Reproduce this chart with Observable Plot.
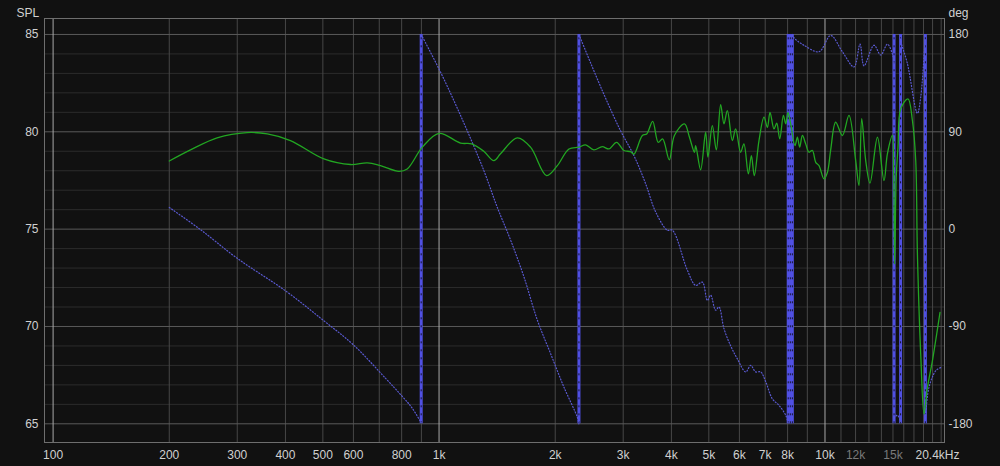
<!DOCTYPE html>
<html><head><meta charset="utf-8">
<script src="https://cdn.jsdelivr.net/npm/d3@7"></script>
<script src="https://cdn.jsdelivr.net/npm/@observablehq/plot@0.6"></script>
<style>
html,body{margin:0;padding:0;background:#111111;}
#chart svg{display:block;}
</style></head><body><div id="chart"></div>
<script>
// ---- SPL (green) ----
const splFreq = [200,227,266,318,359,412,503,590,652,705,787,827,905,1000,1137,1215,1306,1387,1443,1595,1726,1900,2025,2171,2304,2397,2518,2648,2755,2884,3013,3135,3198,3364,3452,3577,3697,3795,3950,4072,4324,4455,4590,4623,4762,4906,4974,5106,5230,5366,5473,5585,5753,5868,6045,6165,6330,6446,6559,6745,6950,7092,7203,7377,7498,7634,7802,7910,8019,8149,8360,8481,8598,8738,8912,9089,9275,9461,9648,9941,10146,10349,10658,11093,11539,12010,12249,12449,12750,13080,13673,14220,14510,14950,15068,15157,15290,15458,15710,16410,16846,17182,17356,17702,18055,18426,18981,19862];
const splValue = [78.5,79.07,79.69,79.96,79.89,79.55,78.61,78.32,78.4,78.26,77.97,78.09,79.21,79.92,79.42,79.38,79.0,78.52,78.87,79.69,79.21,77.75,78.26,79.12,79.21,79.33,79.07,79.24,79.12,79.46,79.04,78.98,78.85,79.81,79.89,80.54,79.46,79.64,78.56,79.81,80.41,79.72,78.95,79.29,78.05,79.98,78.7,80.32,79.07,81.4,80.41,81.09,79.55,80.15,78.95,79.38,77.84,78.78,77.75,79.55,80.75,80.23,81.0,80.15,80.44,79.64,80.84,80.41,81.0,80.41,79.29,79.72,79.21,79.81,79.38,78.95,79.04,78.43,78.26,77.58,77.92,79.1,80.49,79.81,80.84,78.52,77.24,80.67,78.52,77.36,79.72,77.49,78.87,79.81,77.8,73.2,77.6,79.21,81.18,81.69,80.58,78.52,73.73,68.58,65.5,66.87,68.24,70.72];

// ---- Phase (blue, wrapped, degrees) ----
const phaseFreq = [200,240,300,400,500,600,727,800,850,899,
  899,1000,1092,1183,1307,1416,1532,1659,1797,1945,2106,2282,2304,
  2304,2322,2649,2953,3198,3430,3640,3904,4023,4399,4623,4811,4957,5055,5208,5312,5473,5697,5929,6230,6419,6613,6814,7020,7307,7602,7910,8030,
  8230,8311,8481,8822,9648,10349,11093,11889,12323,12621,13397,13946,14510,14950,15094,15100,
  15100,15400,15700,
  15700,15710,16351,17356,17702,18164,
  18200,18239,18605,19359,19944];
const phaseDeg = [20,0,-27,-57,-84,-107,-138,-154,-165,-179,
  180,148,119,91,54,20,-10,-44,-84,-115,-146,-174,-180,
  180,177,128,91,68,42,16,-1,-1,-38,-52,-49,-66,-61,-75,-72,-92,-108,-120,-132,-126,-132,-132,-141,-157,-163,-172,-180,
  180,177,174,170,164,179,164,150,171,151,170,161,171,162,153,150,
  -175,-172,-178,
  176,174,153,107,122,175,
  -175,-171,-146,-131,-128];
const phaseSeg = [1,1,1,1,1,1,1,1,1,1,
  2,2,2,2,2,2,2,2,2,2,2,2,2,
  3,3,3,3,3,3,3,3,3,3,3,3,3,3,3,3,3,3,3,3,3,3,3,3,3,3,3,3,
  4,4,4,4,4,4,4,4,4,4,4,4,4,4,4,4,
  5,5,5,
  6,6,6,6,6,6,
  7,7,7,7,7];
const wrapFreq = [899,2304,8030,8130,8230,15100,15700,18200];

// ---- Axes ----
const xTickValues = [100,200,300,400,500,600,800,1000,2000,3000,4000,5000,6000,7000,8000,10000];
const xTickLabels = ["100","200","300","400","500","600","800","1k","2k","3k","4k","5k","6k","7k","8k","10k"];
const xDimTickValues = [12000,15000];
const xDimTickLabels = ["12k","15k"];
const xEndTickValue = [20400];
const xEndTickLabel = ["20.4kHz"];
const xGridBright = [100,1000,10000];
const xGrid = [200,300,400,500,600,700,800,900,2000,3000,4000,5000,6000,7000,8000,9000,11000,12000,13000,14000,15000,16000,17000,18000,19000,20000];
const splTicks = [65,70,75,80,85];
const splGridMinor = [66,67,68,69,71,72,73,74,76,77,78,79,81,82,83,84];
const degPerDb = 18; // right axis: 85 dB <-> 180°, 65 dB <-> -180°

const toSpl = d => 75 + d / degPerDb;
const splData = splFreq.map((f, i) => ({f, v: splValue[i]}));
const phaseData = phaseFreq.map((f, i) => ({f, v: toSpl(phaseDeg[i]), s: phaseSeg[i]}));
const txt = "#d0d0d0";

const chart = Plot.plot({
  width: 1000, height: 466,
  marginLeft: 44, marginRight: 56, marginTop: 18, marginBottom: 24,
  style: {background: "#111111", color: txt, fontFamily: "'Liberation Sans', Arial, sans-serif", fontSize: "12px"},
  x: {type: "log", domain: [95, 20400], axis: null},
  y: {domain: [64.04, 85.82], axis: null},
  marks: [
    Plot.ruleY(splGridMinor, {stroke: "#2c2c2c", strokeWidth: 1}),
    Plot.ruleX(xGrid, {stroke: "#474747", strokeWidth: 1}),
    Plot.ruleY(splTicks, {stroke: "#5a5a5a", strokeWidth: 1}),
    Plot.ruleX(xGridBright, {stroke: "#a8a8a8", strokeWidth: 1}),
    Plot.frame({stroke: "#6e6e6e"}),
    Plot.ruleX(wrapFreq, {y1: toSpl(-180), y2: toSpl(180), stroke: "#5050e2", strokeWidth: 3}),
    Plot.ruleX(wrapFreq, {y1: toSpl(-180), y2: toSpl(180), stroke: "#151530", strokeWidth: 1, strokeDasharray: "2,6"}),
    Plot.line(phaseData, {x: "f", y: "v", z: "s", stroke: "#5a5ad2", strokeWidth: 1.2, strokeDasharray: "1,2", curve: "catmull-rom"}),
    Plot.line(splData, {x: "f", y: "v", stroke: "#22a622", strokeWidth: 1.3, curve: "catmull-rom"}),
    Plot.text(xTickValues, {x: d => d, text: (d, i) => xTickLabels[i], frameAnchor: "bottom", lineAnchor: "top", dy: 8, fill: txt, fontSize: 12}),
    Plot.text(xDimTickValues, {x: d => d, text: (d, i) => xDimTickLabels[i], frameAnchor: "bottom", lineAnchor: "top", dy: 8, fill: "#7a7a7a", fontSize: 12}),
    Plot.text(xEndTickValue, {x: d => d, text: (d, i) => xEndTickLabel[i], frameAnchor: "bottom", lineAnchor: "top", dy: 8, dx: -7, fill: txt, fontSize: 12}),
    Plot.text(splTicks, {y: d => d, text: d => String(d), frameAnchor: "left", textAnchor: "end", dx: -6, fill: txt, fontSize: 12}),
    Plot.text(splTicks, {y: d => d, text: d => String((d - 75) * degPerDb), frameAnchor: "right", textAnchor: "start", dx: 4, fill: txt, fontSize: 12}),
    Plot.text(["SPL"], {frameAnchor: "top-left", dx: -28, dy: -10, textAnchor: "start", fill: txt, fontSize: 12}),
    Plot.text(["deg"], {frameAnchor: "top-right", dx: 4, dy: -10, textAnchor: "start", fill: txt, fontSize: 12})
  ]
});
document.getElementById("chart").appendChild(chart);
</script>
</body></html>
